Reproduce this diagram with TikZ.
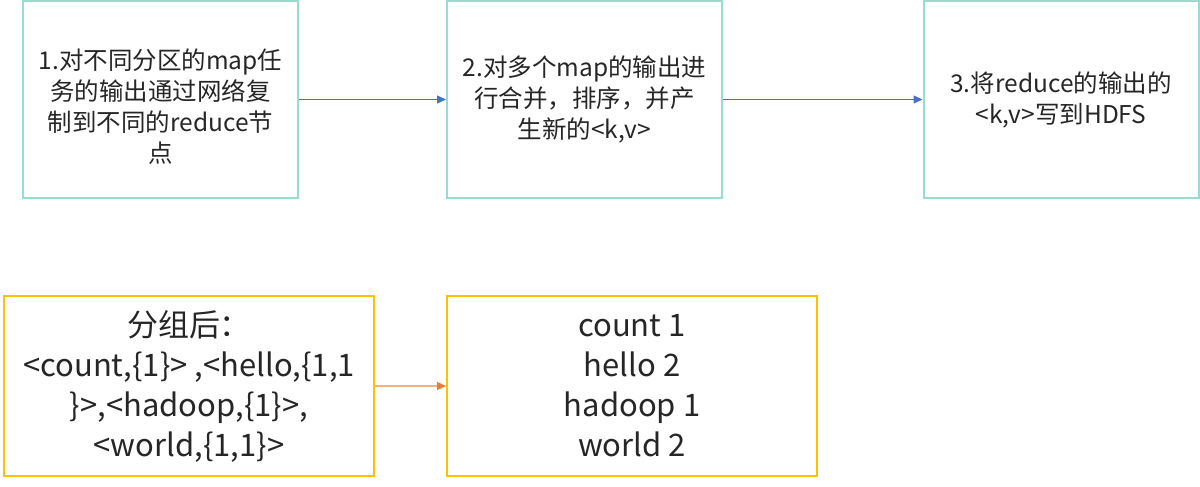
\documentclass[tikz,border=0pt]{standalone}
\usepackage{fontspec}
\setmainfont{Noto Sans CJK SC}
\usetikzlibrary{arrows.meta}
\definecolor{tealb}{HTML}{9ADBCF}
\definecolor{goldb}{HTML}{FFC000}
\definecolor{bluea}{HTML}{4472C4}
\definecolor{orangel}{HTML}{F4B183}
\definecolor{oranget}{HTML}{ED7D31}
\tikzset{
  topbox/.style={draw=tealb, line width=2pt, inner sep=0pt, align=center,
    font=\fontsize{24.5}{31}\selectfont, text=black!85},
  botbox/.style={draw=goldb, line width=2pt, inner sep=0pt, align=center,
    font=\fontsize{31}{40}\selectfont, text=black!85},
  bluearrow/.style={draw=bluea, line width=1.3pt, -{Triangle[length=9pt,width=8pt]}},
  orangearrow/.style={draw=orangel, line width=1.3pt, -{Triangle[length=9pt,width=8pt,color=oranget]}}
}
\begin{document}
\begin{tikzpicture}[x=1pt,y=-1pt]
\useasboundingbox (0,0) rectangle (1200,487);
\node[topbox, minimum width=275pt, minimum height=197pt] (b1) at (160.5,99.5)
  {\rule{0pt}{34pt}1.对不同分区的map任\\务的输出通过网络复\\制到不同的reduce节\\点};
\node[topbox, minimum width=275pt, minimum height=197pt] (b2) at (584.5,99.5)
  {2.对多个map的输出进\\行合并，排序，并产\\生新的<k,v>};
\node[topbox, minimum width=275pt, minimum height=197pt] (b3) at (1061,99.5)
  {3.将reduce的输出的\\<k,v>写到HDFS};
\node[botbox, minimum width=370pt, minimum height=180pt] (b4) at (189,386)
  {分组后：\\<count,\{1\}> ,<hello,\{1,1\\\}>,<hadoop,\{1\}>,\\<world,\{1,1\}>};
\node[botbox, minimum width=370pt, minimum height=180pt] (b5) at (632,386)
  {count 1\\hello 2\\hadoop 1\\world 2};
\draw[bluearrow] (b1.east) -- (b2.west);
\draw[bluearrow] (b2.east) -- (b3.west);
\draw[orangearrow] (b4.east) -- (b5.west);
\end{tikzpicture}
\end{document}
